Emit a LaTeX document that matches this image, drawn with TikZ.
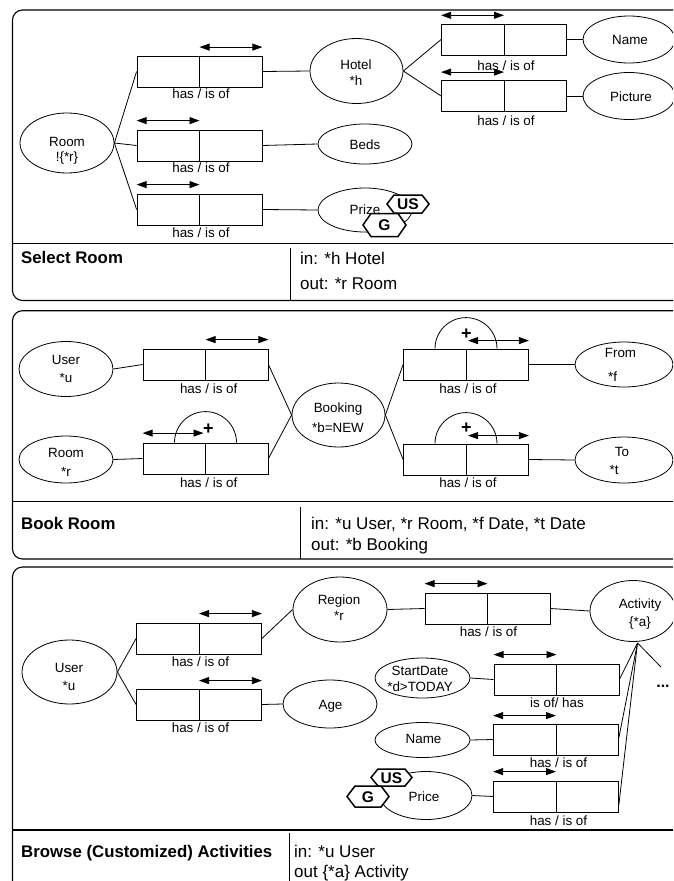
\documentclass[tikz,border=0pt]{standalone}
\usepackage{fontspec}
\setmainfont{Liberation Sans}
\usetikzlibrary{arrows.meta,shapes.geometric}
\newcommand{\fe}{\fontsize{13.4}{15.5}\selectfont}
\newcommand{\fb}{\fontsize{16.8}{20}\selectfont\bfseries}
\newcommand{\fio}{\fontsize{17}{19}\selectfont}
\begin{document}
\begin{tikzpicture}[x=1pt,y=-1pt,
  ent/.style={draw, ellipse, inner sep=0pt, line width=0.8pt},
  et/.style={align=center, font=\fe, inner sep=0pt},
  rbox/.style={draw, rectangle, minimum width=125pt, minimum height=31pt, inner sep=0pt, line width=0.8pt,
    path picture={\draw[line width=0.8pt] (path picture bounding box.north) -- (path picture bounding box.south);}},
  conn/.style={line width=0.8pt},
  dar/.style={line width=0.8pt, {Triangle[length=10pt,width=7pt]}-{Triangle[length=10pt,width=7pt]}},
  panel/.style={draw, line width=1.1pt, rounded corners=10pt},
  sepline/.style={line width=1.1pt},
  hex/.style={draw, fill=white, line width=1.5pt, line join=miter},
  hext/.style={font=\fontsize{15.5}{17}\selectfont\bfseries, inner sep=0pt},
  ttl/.style={font=\fb, anchor=base west, inner sep=0pt},
  io/.style={font=\fio, anchor=base west, inner sep=0pt, align=left},
  plus/.style={font=\fontsize{18}{18}\selectfont\bfseries, inner sep=0pt},
  plusarc/.style={line width=0.8pt},
]
\useasboundingbox (0,0) rectangle (673,881);
\clip (0,0) rectangle (673,881);

%================ Panel 1 : Select Room =================
\draw[panel] (12.5,10) rectangle (700,300.5);
\draw[sepline] (12.5,243.3) -- (700,243.3);
\draw[line width=1pt] (290,248) -- (290,300.5);

\node[ent, minimum width=94pt, minimum height=60pt] (room1) at (67,143) {};
\node[et] (room1t) at (67,151) {Room\strut\\!\{*r\}\strut};

\node[rbox] (b1) at (199.5,71.5) {};
\node[rbox] (b2) at (199.5,145.5) {};
\node[rbox] (b3) at (199.5,209.5) {};
\draw[dar] ([yshift=8.5pt]b1.north) -- ([yshift=8.5pt]b1.north east);
\draw[dar] ([yshift=9pt]b2.north west) -- ([yshift=9pt]b2.north);
\draw[dar] ([yshift=9pt]b3.north west) -- ([yshift=9pt]b3.north);
\node[et] (l1) at (201,95.4) {has / is of\strut};
\node[et] (l2) at (201,169.7) {has / is of\strut};
\node[et] (l3) at (201,234.7) {has / is of\strut};

\draw[conn] (room1.east) -- (b1.west);
\draw[conn] (room1.east) -- (b2.west);
\draw[conn] (room1.east) -- (b3.west);

\node[ent, minimum width=93pt, minimum height=65pt] (hotel) at (356.5,71) {};
\node[et] (hotelt) at (356,74.5) {Hotel\strut\\*h\strut};
\node[ent, minimum width=94pt, minimum height=40pt] (beds) at (365,144) {};
\node[et] (bedst) at (365,146) {Beds\strut};
\node[ent, minimum width=94pt, minimum height=44pt] (prize) at (365,210) {};
\node[et] (prizet) at (365,211) {Prize\strut};

\draw[conn] (b1.east) -- (hotel.west);
\draw[conn] (b2.east) -- (beds.west);
\draw[conn] (b3.east) -- (prize.west);

\node[rbox] (bn) at (504,39.5) {};
\node[rbox] (bp) at (504,96) {};
\draw[dar] ([yshift=8.3pt]bn.north west) -- ([yshift=8.3pt]bn.north);
\draw[dar] ([yshift=8pt]bp.north west) -- ([yshift=8pt]bp.north);
\node[et] (l4) at (506,67) {has / is of\strut};
\node[et] (l5) at (506,122.7) {has / is of\strut};
\draw[conn] (hotel.east) -- (bn.west);
\draw[conn] (hotel.east) -- (bp.west);

\node[ent, minimum width=92pt, minimum height=47pt] (name1) at (629,39.5) {};
\node[et] (name1t) at (630,41) {Name\strut};
\node[ent, minimum width=92pt, minimum height=47pt] (pict) at (629,96) {};
\node[et] (pictt) at (631,98.4) {Picture\strut};
\draw[conn] (bn.east) -- (name1.west);
\draw[conn] (bp.east) -- (pict.west);

% currency tags
\path[hex] (387,204) -- (394,195) -- (422,195) -- (429,204) -- (422,213) -- (394,213) -- cycle;
\node[hext] (us1) at (408,204.5) {US};
\path[hex] (363,225) -- (371,213.5) -- (398,213.5) -- (406,225) -- (398,236.5) -- (371,236.5) -- cycle;
\node[hext] (g1) at (384.5,225.5) {G};

\node[ttl] (t1) at (21,263.5) {Select Room};
\node[io] (in1) at (300,264) {in: *h Hotel};
\node[io] (out1) at (300,289) {out: *r Room};

%================ Panel 2 : Book Room =================
\draw[panel] (12.5,310.7) rectangle (700,559);
\draw[sepline] (12.5,501.7) -- (700,501.7);
\draw[line width=1pt] (300,507) -- (300,559);

\node[ent, minimum width=94pt, minimum height=55pt] (user2) at (66,369) {};
\node[et] (user2t) at (66,370.7) {User\strut\\[2.5pt]*u\strut};
\node[ent, minimum width=94pt, minimum height=47pt] (room2) at (66,459.5) {};
\node[et] (room2t) at (66,464.2) {Room\strut\\[3.5pt]*r\strut};

\node[rbox] (bu) at (205.5,364.5) {};
\node[rbox] (br) at (205.5,458.5) {};
\draw[dar] ([yshift=9pt]bu.north) -- ([yshift=9pt]bu.north east);
\draw[dar] ([yshift=9.5pt]br.north west) -- ([yshift=9.5pt,xshift=-2pt]br.north);
\draw[plusarc] ([xshift=-31pt]br.north) arc[start angle=180, end angle=0, radius=31pt];
\node[plus] (plusr) at (208.5,429.5) {+};
\node[et] (l6) at (208.7,390.4) {has / is of\strut};
\node[et] (l7) at (208.7,484.7) {has / is of\strut};
\draw[conn] (user2.east) -- (bu.west);
\draw[conn] (room2.east) -- (br.west);

\node[ent, minimum width=93pt, minimum height=64pt] (booking) at (338.5,415) {};
\node[et] (bookingt) at (338,419.5) {Booking\strut\\[4.5pt]*b=NEW\strut};
\draw[conn] (bu.east) -- (booking.west);
\draw[conn] (br.east) -- (booking.west);

\node[rbox] (bf) at (466,364.5) {};
\node[rbox] (bt) at (466,459.5) {};
\draw[plusarc] ([xshift=-31pt]bf.north) arc[start angle=180, end angle=0, radius=31pt];
\draw[plusarc] ([xshift=-31pt]bt.north) arc[start angle=180, end angle=0, radius=31pt];
\draw[dar] ([yshift=8pt,xshift=2pt]bf.north) -- ([yshift=8pt]bf.north east);
\draw[dar] ([yshift=8pt,xshift=2pt]bt.north) -- ([yshift=8pt]bt.north east);
\node[plus] (plusf) at (466.5,334) {+};
\node[plus] (plust) at (466.5,428.5) {+};
\node[et] (l8) at (468,390.4) {has / is of\strut};
\node[et] (l9) at (468,484.7) {has / is of\strut};
\draw[conn] (booking.east) -- (bf.west);
\draw[conn] (booking.east) -- (bt.west);

\node[ent, minimum width=98pt, minimum height=45pt] (from) at (624,364.5) {};
\node[et] (fromt) at (620.5,354.7) {From\strut};
\node[et] (fromv) at (612.5,378.7) {*f\strut};
\node[ent, minimum width=98pt, minimum height=46pt] (to) at (624,460) {};
\node[et] (tot) at (622,453.7) {To\strut};
\node[et] (tov) at (614,471.7) {*t\strut};
\draw[conn] (bf.east) -- (from.west);
\draw[conn] (bt.east) -- (to.west);

\node[ttl] (t2) at (21,529.5) {Book Room};
\node[io] (in2) at (311,529.5) {in: *u User, *r Room, *f Date, *t Date};
\node[io] (out2) at (311,550) {out: *b Booking};

%================ Panel 3 : Browse Activities =================
\draw[panel] (12.5,567) rectangle (700,892);
\draw[sepline] (12.5,830) -- (700,830);
\draw[line width=1pt] (289,833) -- (289,892);

\node[ent, minimum width=95pt, minimum height=64pt] (user3) at (69.5,672) {};
\node[et] (user3t) at (69,678.7) {User\strut\\[2.5pt]*u\strut};

\node[rbox] (ba) at (199,638.5) {};
\node[rbox] (bb) at (199,704.5) {};
\draw[dar] ([yshift=9pt]ba.north) -- ([yshift=9pt]ba.north east);
\draw[dar] ([yshift=8pt]bb.north) -- ([yshift=8pt]bb.north east);
\node[et] (l10) at (200.5,663.7) {has / is of\strut};
\node[et] (l11) at (200.5,729.7) {has / is of\strut};
\draw[conn] (user3.east) -- (ba.west);
\draw[conn] (user3.east) -- (bb.west);

\node[ent, minimum width=94pt, minimum height=65pt] (region) at (340,609.5) {};
\node[et] (regiont) at (339,609.2) {Region\strut\\*r\strut};
\node[ent, minimum width=94pt, minimum height=48pt] (age) at (330,704) {};
\node[et] (aget) at (330.5,706.7) {Age\strut};
\draw[conn] (ba.east) -- (region.west);
\draw[conn] (bb.east) -- (age.west);

\node[rbox] (bra) at (487.5,608.5) {};
\draw[dar] ([yshift=9pt]bra.north west) -- ([yshift=9pt]bra.north);
\node[et] (l12) at (488.5,633.7) {has / is of\strut};
\draw[conn] (region.east) -- (bra.west);

\node[ent, minimum width=86pt, minimum height=61pt] (activity) at (633,611) {};
\node[et] (activityt) at (640,614.7) {Activity\strut\\[2.5pt]\{*a\}\strut};
\draw[conn] (bra.east) -- (activity.west);

\node[ent, minimum width=95pt, minimum height=40pt] (startd) at (422.5,678) {};
\node[et] (startdt) at (420,680.2) {StartDate\strut\\*d>TODAY\strut};
\node[rbox] (bsd) at (556.5,679.5) {};
\draw[dar] ([yshift=9pt]bsd.north west) -- ([yshift=9pt]bsd.north);
\node[et] (l13) at (557,704.7) {is of/ has\strut};
\draw[conn] (startd.east) -- (bsd.west);

\node[ent, minimum width=95pt, minimum height=35pt] (name3) at (422.5,740) {};
\node[et] (name3t) at (423.5,740.7) {Name\strut};
\node[rbox] (bnm) at (556,739.5) {};
\draw[dar] ([yshift=8pt]bnm.north west) -- ([yshift=8pt]bnm.north);
\node[et] (l14) at (558.5,764) {has / is of\strut};
\draw[conn] (name3.east) -- (bnm.west);

\node[ent, minimum width=92pt, minimum height=48pt] (price) at (426,795.5) {};
\node[et] (pricet) at (424,798.7) {Price\strut};
\node[rbox] (bpr) at (556,796.5) {};
\draw[dar] ([yshift=9pt]bpr.north west) -- ([yshift=9pt]bpr.north);
\node[et] (l15) at (558.5,822) {has / is of\strut};
\draw[conn] (price.east) -- (bpr.west);

\path[hex] (371,777.5) -- (378,769) -- (405,769) -- (412,777.5) -- (405,786) -- (378,786) -- cycle;
\node[hext] (us3) at (391.5,778) {US};
\path[hex] (347,796.5) -- (355,786) -- (381,786) -- (389,796.5) -- (381,807) -- (355,807) -- cycle;
\node[hext] (g3) at (368,797) {G};

\coordinate (actb) at (637.5,643);
\coordinate (more) at (661,667);
\draw[conn] (actb) -- (bsd.east);
\draw[conn] (actb) -- ([yshift=2pt]bnm.east);
\draw[conn] (actb) -- ([yshift=-8pt]bpr.east);
\draw[conn] (actb) -- (more);
\node[font=\fontsize{16}{16}\selectfont\bfseries, inner sep=0pt] (dots) at (663,686) {...};

\node[ttl] (t3) at (21,857) {Browse (Customized) Activities};
\node[io] (in3) at (294,857) {in: *u User};
\node[io] (out3) at (294,877) {out \{*a\} Activity};
\end{tikzpicture}
\end{document}
